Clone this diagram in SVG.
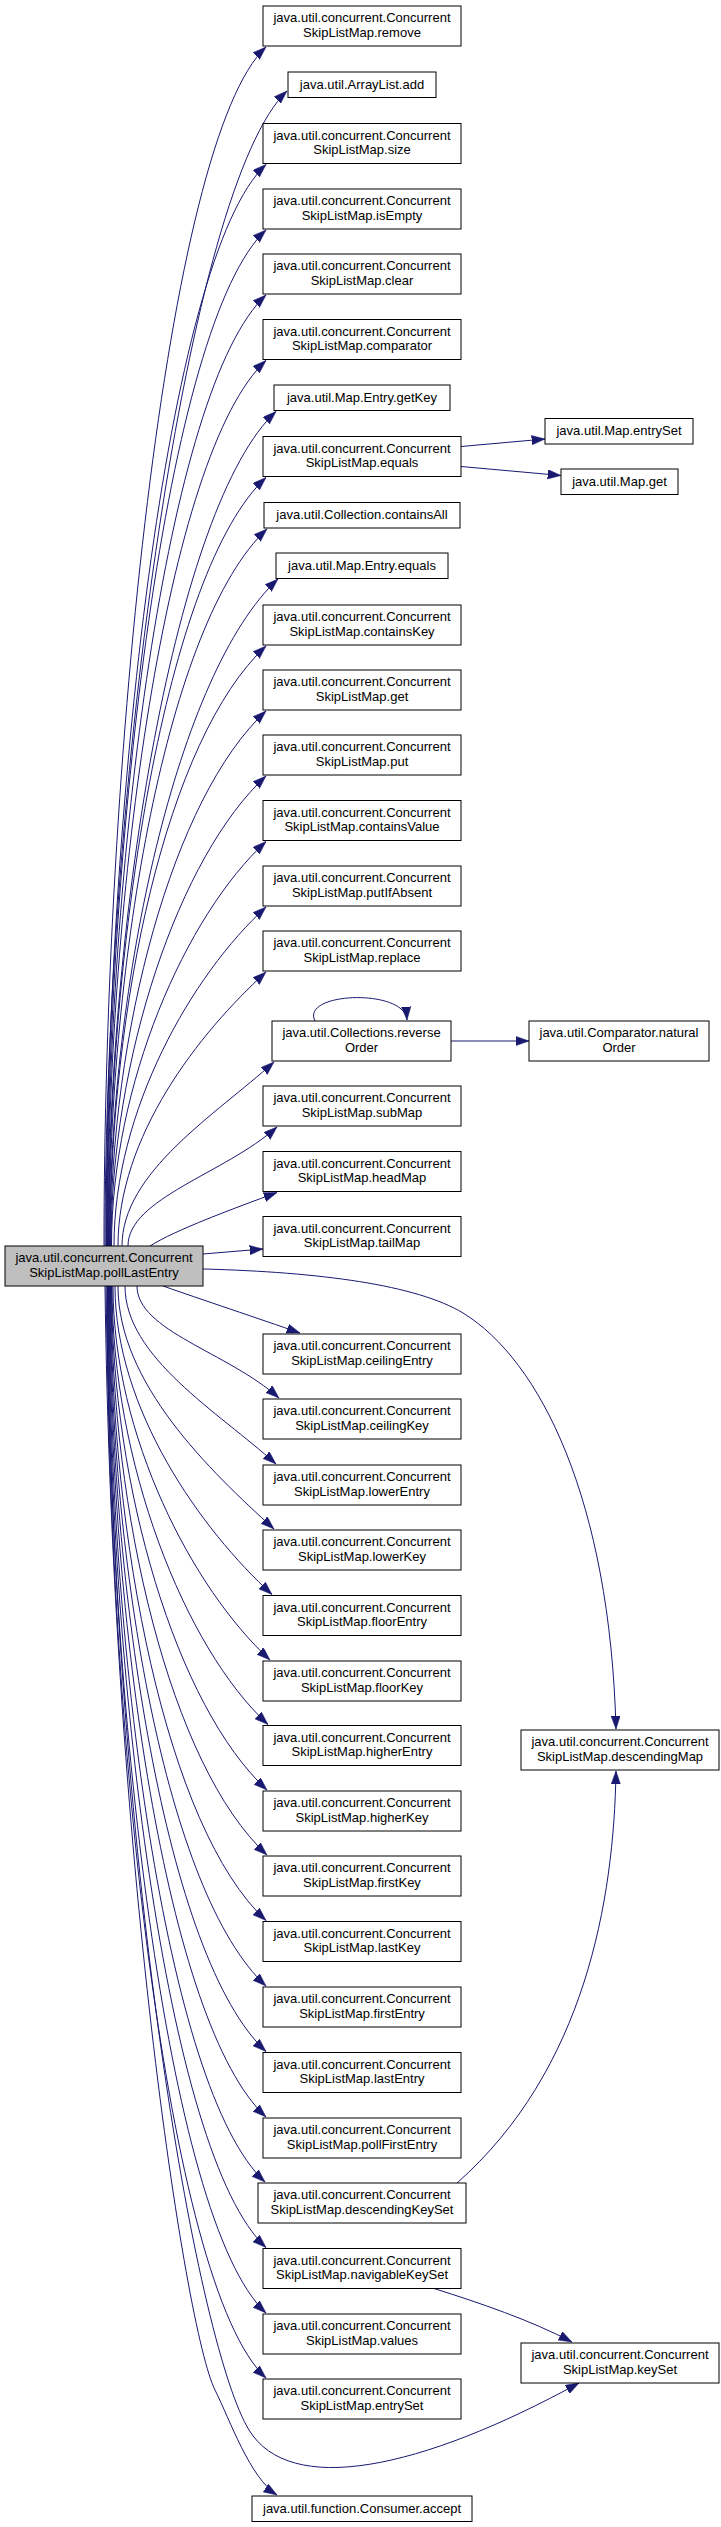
<svg xmlns="http://www.w3.org/2000/svg" width="721" height="2527" viewBox="0 0 721 2527">
<style>
.n rect{fill:#fff;stroke:#000;stroke-width:1}
.m rect{fill:#bfbfbf;stroke:#000;stroke-width:1}
text{font-family:"Liberation Sans",Arial,sans-serif;font-size:13px;text-anchor:middle;fill:#000}
.e path{fill:none;stroke:#191970;stroke-width:1;marker-end:url(#a)}
</style>
<defs>
<marker id="a" markerUnits="userSpaceOnUse" markerWidth="14" markerHeight="10" viewBox="0 0 14 10" refX="13.3" refY="4.7" orient="auto">
<path d="M0,0 L13.3,4.7 L0,9.4 z" fill="#191970" stroke="#191970" stroke-width="0.5"/>
</marker>
</defs>
<rect x="0" y="0" width="721" height="2527" fill="#fff"/>
<g id="edges" class="e">
<path d="M104,1246 C104,766 166,140 266,47"/>
<path d="M105,1246 C105,784 188,185 287,91"/>
<path d="M106,1246 C106,813 166,257.5 266,164.5"/>
<path d="M106.5,1246 C106.5,840 166,323 266,230"/>
<path d="M107,1246 C107,866 166,388 266,295"/>
<path d="M107.5,1246 C107.5,892 166,453.5 266,360.5"/>
<path d="M108,1246 C108,912 176,504.5 276,411.5"/>
<path d="M108.5,1246 C108.5,939 166,570.5 266,477.5"/>
<path d="M109,1246 C109,959 167,622 267,529"/>
<path d="M109.5,1246 C109.5,979 178,672 278,579"/>
<path d="M110,1246 C110,1006 166,739 266,646"/>
<path d="M110.5,1246 C110.5,1032 172.5,797.7 266,711"/>
<path d="M111,1246 C111,1058 179,856.4 266,776"/>
<path d="M111.5,1246 C111.5,1084 185.6,915.6 266,841.5"/>
<path d="M114,1246 C114,1110 192,974.8 266,907"/>
<path d="M118,1246 C118,1136 198.6,1033.5 266,972"/>
<path d="M122,1246 C122,1172 215.6,1114.8 274,1062"/>
<path d="M128,1246 C128,1198.4 225,1173.5 277,1127"/>
<path d="M150,1246 C175,1230 235,1208 277,1192.5"/>
<path d="M203,1254 L263,1249"/>
<path d="M163,1286 C200,1299 260,1319 300,1333"/>
<path d="M137,1286 C137,1330.8 227.8,1352.2 279,1398"/>
<path d="M125,1286 C125,1357.2 218.2,1411.8 276,1464"/>
<path d="M118,1286 C118,1383.2 209.7,1470.5 274,1529"/>
<path d="M115,1286 C115,1409.4 201.2,1529.7 272,1594.5"/>
<path d="M113,1286 C113,1435.6 192.6,1588.8 270,1660"/>
<path d="M112,1286 C112,1461.4 184.1,1647.1 268,1724.5"/>
<path d="M111.5,1286 C111.5,1487.6 176.6,1706.3 267,1790"/>
<path d="M111,1286 C111,1513.6 170.1,1765 267,1855"/>
<path d="M110.5,1286 C110.5,1539.8 166,1827.5 266,1920.5"/>
<path d="M110,1286 C110,1566 166,1893 266,1986"/>
<path d="M109.5,1286 C109.5,1592.2 166,1958.5 266,2051.5"/>
<path d="M109,1286 C109,1618.4 166,2024 266,2117"/>
<path d="M108.5,1286 C108.5,1644.4 165,2089 265,2182"/>
<path d="M108,1286 C108,1670.6 166,2154.5 266,2247.5"/>
<path d="M107.5,1286 C107.5,1696.8 166,2220 266,2313"/>
<path d="M107,1286 C107,1722.8 166,2285 266,2378"/>
<path d="M105,1286 C112,1850 185,2330 215,2390 C230,2420 250,2478 277,2495"/>
<path d="M106,1286 C115,1900 200,2350 249,2430 C290,2497 420,2470 579,2383"/>
<path d="M203,1269 C320,1272 417,1285 463,1313 C540,1360 610,1500 616,1729"/>
<path d="M457,2183 C585,2070 614,1900 616,1771"/>
<path d="M434,2288.5 C480,2303 530,2320 572,2342"/>
<path d="M461,446.5 L545,439"/>
<path d="M461,466.5 L561,475.5"/>
<path d="M451,1041 L529,1041"/>
<path d="M315,1021 C300,992 405,988 407,1020"/>
</g>
<g id="main" class="m"><rect x="5" y="1246" width="198" height="40"/><text x="104" y="1262">java.util.concurrent.Concurrent</text><text x="104" y="1276.5">SkipListMap.pollLastEntry</text></g>
<g id="remove" class="n"><rect x="263" y="6" width="198" height="40"/><text x="362" y="22">java.util.concurrent.Concurrent</text><text x="362" y="36.5">SkipListMap.remove</text></g>
<g id="arraylist_add" class="n"><rect x="288" y="72" width="148" height="25.5"/><text x="362" y="88.5">java.util.ArrayList.add</text></g>
<g id="size" class="n"><rect x="263" y="123.5" width="198" height="40"/><text x="362" y="139.5">java.util.concurrent.Concurrent</text><text x="362" y="154">SkipListMap.size</text></g>
<g id="isEmpty" class="n"><rect x="263" y="189" width="198" height="40"/><text x="362" y="205">java.util.concurrent.Concurrent</text><text x="362" y="219.5">SkipListMap.isEmpty</text></g>
<g id="clear" class="n"><rect x="263" y="254" width="198" height="40"/><text x="362" y="270">java.util.concurrent.Concurrent</text><text x="362" y="284.5">SkipListMap.clear</text></g>
<g id="comparator" class="n"><rect x="263" y="319.5" width="198" height="40"/><text x="362" y="335.5">java.util.concurrent.Concurrent</text><text x="362" y="350">SkipListMap.comparator</text></g>
<g id="entry_getKey" class="n"><rect x="274" y="385" width="176" height="25.5"/><text x="362" y="401.5">java.util.Map.Entry.getKey</text></g>
<g id="equals" class="n"><rect x="263" y="436.5" width="198" height="40"/><text x="362" y="452.5">java.util.concurrent.Concurrent</text><text x="362" y="467">SkipListMap.equals</text></g>
<g id="containsAll" class="n"><rect x="264" y="502.5" width="196" height="25.5"/><text x="362" y="519">java.util.Collection.containsAll</text></g>
<g id="entry_equals" class="n"><rect x="276" y="553" width="172" height="25.5"/><text x="362" y="569.5">java.util.Map.Entry.equals</text></g>
<g id="containsKey" class="n"><rect x="263" y="605" width="198" height="40"/><text x="362" y="621">java.util.concurrent.Concurrent</text><text x="362" y="635.5">SkipListMap.containsKey</text></g>
<g id="get" class="n"><rect x="263" y="670" width="198" height="40"/><text x="362" y="686">java.util.concurrent.Concurrent</text><text x="362" y="700.5">SkipListMap.get</text></g>
<g id="put" class="n"><rect x="263" y="735" width="198" height="40"/><text x="362" y="751">java.util.concurrent.Concurrent</text><text x="362" y="765.5">SkipListMap.put</text></g>
<g id="containsValue" class="n"><rect x="263" y="800.5" width="198" height="40"/><text x="362" y="816.5">java.util.concurrent.Concurrent</text><text x="362" y="831">SkipListMap.containsValue</text></g>
<g id="putIfAbsent" class="n"><rect x="263" y="866" width="198" height="40"/><text x="362" y="882">java.util.concurrent.Concurrent</text><text x="362" y="896.5">SkipListMap.putIfAbsent</text></g>
<g id="replace" class="n"><rect x="263" y="931" width="198" height="40"/><text x="362" y="947">java.util.concurrent.Concurrent</text><text x="362" y="961.5">SkipListMap.replace</text></g>
<g id="reverseOrder" class="n"><rect x="272" y="1021" width="179" height="40"/><text x="361.5" y="1037">java.util.Collections.reverse</text><text x="361.5" y="1051.5">Order</text></g>
<g id="subMap" class="n"><rect x="263" y="1086" width="198" height="40"/><text x="362" y="1102">java.util.concurrent.Concurrent</text><text x="362" y="1116.5">SkipListMap.subMap</text></g>
<g id="headMap" class="n"><rect x="263" y="1151.5" width="198" height="40"/><text x="362" y="1167.5">java.util.concurrent.Concurrent</text><text x="362" y="1182">SkipListMap.headMap</text></g>
<g id="tailMap" class="n"><rect x="263" y="1216.5" width="198" height="40"/><text x="362" y="1232.5">java.util.concurrent.Concurrent</text><text x="362" y="1247">SkipListMap.tailMap</text></g>
<g id="ceilingEntry" class="n"><rect x="263" y="1334" width="198" height="40"/><text x="362" y="1350">java.util.concurrent.Concurrent</text><text x="362" y="1364.5">SkipListMap.ceilingEntry</text></g>
<g id="ceilingKey" class="n"><rect x="263" y="1399" width="198" height="40"/><text x="362" y="1415">java.util.concurrent.Concurrent</text><text x="362" y="1429.5">SkipListMap.ceilingKey</text></g>
<g id="lowerEntry" class="n"><rect x="263" y="1465" width="198" height="40"/><text x="362" y="1481">java.util.concurrent.Concurrent</text><text x="362" y="1495.5">SkipListMap.lowerEntry</text></g>
<g id="lowerKey" class="n"><rect x="263" y="1530" width="198" height="40"/><text x="362" y="1546">java.util.concurrent.Concurrent</text><text x="362" y="1560.5">SkipListMap.lowerKey</text></g>
<g id="floorEntry" class="n"><rect x="263" y="1595.5" width="198" height="40"/><text x="362" y="1611.5">java.util.concurrent.Concurrent</text><text x="362" y="1626">SkipListMap.floorEntry</text></g>
<g id="floorKey" class="n"><rect x="263" y="1661" width="198" height="40"/><text x="362" y="1677">java.util.concurrent.Concurrent</text><text x="362" y="1691.5">SkipListMap.floorKey</text></g>
<g id="higherEntry" class="n"><rect x="263" y="1725.5" width="198" height="40"/><text x="362" y="1741.5">java.util.concurrent.Concurrent</text><text x="362" y="1756">SkipListMap.higherEntry</text></g>
<g id="higherKey" class="n"><rect x="263" y="1791" width="198" height="40"/><text x="362" y="1807">java.util.concurrent.Concurrent</text><text x="362" y="1821.5">SkipListMap.higherKey</text></g>
<g id="firstKey" class="n"><rect x="263" y="1856" width="198" height="40"/><text x="362" y="1872">java.util.concurrent.Concurrent</text><text x="362" y="1886.5">SkipListMap.firstKey</text></g>
<g id="lastKey" class="n"><rect x="263" y="1921.5" width="198" height="40"/><text x="362" y="1937.5">java.util.concurrent.Concurrent</text><text x="362" y="1952">SkipListMap.lastKey</text></g>
<g id="firstEntry" class="n"><rect x="263" y="1987" width="198" height="40"/><text x="362" y="2003">java.util.concurrent.Concurrent</text><text x="362" y="2017.5">SkipListMap.firstEntry</text></g>
<g id="lastEntry" class="n"><rect x="263" y="2052.5" width="198" height="40"/><text x="362" y="2068.5">java.util.concurrent.Concurrent</text><text x="362" y="2083">SkipListMap.lastEntry</text></g>
<g id="pollFirstEntry" class="n"><rect x="263" y="2118" width="198" height="40"/><text x="362" y="2134">java.util.concurrent.Concurrent</text><text x="362" y="2148.5">SkipListMap.pollFirstEntry</text></g>
<g id="descendingKeySet" class="n"><rect x="258" y="2183" width="208" height="40"/><text x="362" y="2199">java.util.concurrent.Concurrent</text><text x="362" y="2213.5">SkipListMap.descendingKeySet</text></g>
<g id="navigableKeySet" class="n"><rect x="263" y="2248.5" width="198" height="40"/><text x="362" y="2264.5">java.util.concurrent.Concurrent</text><text x="362" y="2279">SkipListMap.navigableKeySet</text></g>
<g id="values" class="n"><rect x="263" y="2314" width="198" height="40"/><text x="362" y="2330">java.util.concurrent.Concurrent</text><text x="362" y="2344.5">SkipListMap.values</text></g>
<g id="entrySet" class="n"><rect x="263" y="2379" width="198" height="40"/><text x="362" y="2395">java.util.concurrent.Concurrent</text><text x="362" y="2409.5">SkipListMap.entrySet</text></g>
<g id="consumer_accept" class="n"><rect x="252" y="2496" width="220" height="25.5"/><text x="362" y="2512.5">java.util.function.Consumer.accept</text></g>
<g id="map_entrySet" class="n"><rect x="545" y="418.5" width="148" height="25.5"/><text x="619" y="435">java.util.Map.entrySet</text></g>
<g id="map_get" class="n"><rect x="561" y="469" width="117" height="25.5"/><text x="619.5" y="485.5">java.util.Map.get</text></g>
<g id="naturalOrder" class="n"><rect x="529" y="1021" width="180" height="40"/><text x="619" y="1037">java.util.Comparator.natural</text><text x="619" y="1051.5">Order</text></g>
<g id="descendingMap" class="n"><rect x="521" y="1730" width="198" height="40"/><text x="620" y="1746">java.util.concurrent.Concurrent</text><text x="620" y="1760.5">SkipListMap.descendingMap</text></g>
<g id="keySet" class="n"><rect x="521" y="2343" width="198" height="40"/><text x="620" y="2359">java.util.concurrent.Concurrent</text><text x="620" y="2373.5">SkipListMap.keySet</text></g>
</svg>
